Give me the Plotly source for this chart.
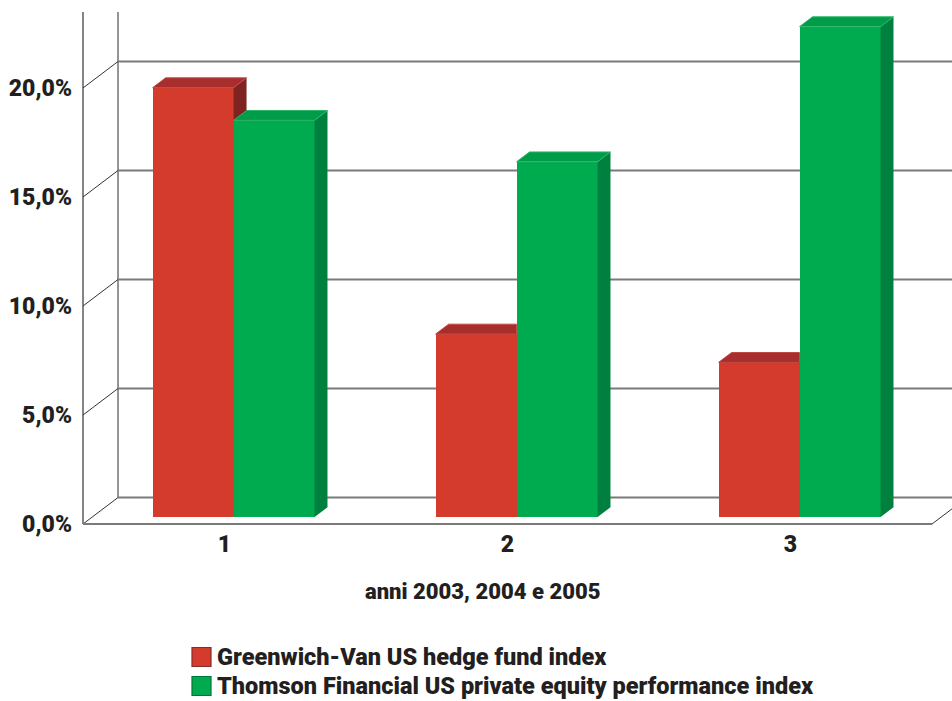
import plotly.graph_objects as go

# ---- data -------------------------------------------------------------
categories = [1, 2, 3]
category_labels = ["1", "2", "3"]
hedge_fund = [19.7, 8.4, 7.1]          # Greenwich-Van US hedge fund index (%)
private_equity = [18.2, 16.3, 22.5]    # Thomson Financial US PE index (%)
y_ticks = [0, 5, 10, 15, 20]
y_tick_labels = ["0,0%", "5,0%", "10,0%", "15,0%", "20,0%"]
series_names = [
    "Greenwich-Van US hedge fund index",
    "Thomson Financial US private equity performance index",
]
x_title = "anni 2003, 2004 e 2005"

# ---- style ------------------------------------------------------------
FONT = "Roboto, Liberation Sans, sans-serif"
WEIGHT = 900
INK = "#231f20"
RED = {"front": "#d43b2d", "top": "#a82e2d", "side": "#7e2222",
       "edge": "#8a2a25", "hi": "#c04a44"}
GREEN = {"front": "#00ab4f", "top": "#009c49", "side": "#00803f",
         "edge": "#00773a", "hi": "#2cb568"}
GRID = "#7a7a7a"
DARK = "#333333"

# ---- pseudo-3D geometry (data units) ---------------------------------
DX, DY = 0.1237, 1.2156      # shift of the back wall relative to the front plane
Z0, Z1 = 0.26, 0.63          # depth range occupied by the bars (0 = front, 1 = back)
BAR_W = 0.286
X_LO, X_HI = 0.5, 3.5        # floor extent along x
PX_X, PX_Y = 283.0, 21.8     # pixels per x unit / per percent
W, H = 952, 701
M_L, M_R, M_T, M_B = 73, 0, 12, 173
PLOT_W, PLOT_H = W - M_L - M_R, H - M_T - M_B


def px_to_paper(px, py):
    """Figure pixel position -> paper coordinates of the plot area."""
    return (px - M_L) / PLOT_W, (H - M_B - py) / PLOT_H


x0 = X_LO - 10 / PX_X
x_range = [x0, x0 + PLOT_W / PX_X]
y0 = -4 / PX_Y
y_range = [y0, y0 + PLOT_H / PX_Y]
Y_TOP = y_range[1] + 1

base = Z0 * DY
ddx, ddy = (Z1 - Z0) * DX, (Z1 - Z0) * DY

fig = go.Figure()


def poly(xs, ys, color, edge=None):
    fig.add_trace(go.Scatter(
        x=xs + [xs[0]], y=ys + [ys[0]], mode="lines", fill="toself",
        fillcolor=color,
        line=dict(width=1 if edge else 0, color=edge or color),
        hoverinfo="skip", showlegend=False,
    ))


# front faces as bars
red_x = [c + Z0 * DX - BAR_W / 2 for c in categories]
green_x = [c + Z0 * DX + BAR_W / 2 for c in categories]
fig.add_trace(go.Bar(x=red_x, y=hedge_fund, base=base, width=BAR_W,
                     marker=dict(color=RED["front"], line=dict(width=0)),
                     name=series_names[0], showlegend=False))
fig.add_trace(go.Bar(x=green_x, y=private_equity, base=base, width=BAR_W,
                     marker=dict(color=GREEN["front"], line=dict(width=0)),
                     name=series_names[1], showlegend=False))

# top and side faces
for rx, gx, rv, gv in zip(red_x, green_x, hedge_fund, private_equity):
    rl, rr = rx - BAR_W / 2, rx + BAR_W / 2
    gl, gr = gx - BAR_W / 2, gx + BAR_W / 2
    rt, gt = base + rv, base + gv
    if rt > gt:
        # red side visible only above the green front face
        poly([rr, rr, rr + ddx, rr + ddx], [gt, rt, rt + ddy, gt], RED["side"])
        poly([rl, rr, rr + ddx, rl + ddx], [rt, rt, rt + ddy, rt + ddy],
             RED["top"], RED["hi"])
    else:
        # red top cut where the green front face starts
        poly([rl, rr, rr, rl + ddx], [rt, rt, rt + ddy, rt + ddy],
             RED["top"], RED["hi"])
    poly([gr, gr, gr + ddx, gr + ddx], [base, gt, gt + ddy, base + ddy], GREEN["side"])
    poly([gl, gr, gr + ddx, gl + ddx], [gt, gt, gt + ddy, gt + ddy],
         GREEN["top"], GREEN["hi"])

# walls and floor
shapes = []


def seg(xa, ya, xb, yb, color, width):
    shapes.append(dict(type="line", xref="x", yref="y", x0=xa, y0=ya, x1=xb, y1=yb,
                       line=dict(color=color, width=width), layer="below"))


seg(X_LO, 0, X_LO, Y_TOP, DARK, 1.2)
seg(X_LO + DX, DY, X_LO + DX, Y_TOP, GRID, 1.6)
for v in y_ticks:
    seg(X_LO, v, X_LO + DX, v + DY, DARK, 1)
    seg(X_LO + DX, v + DY, x_range[1] + 1, v + DY, GRID, 1.8)
seg(X_LO, 0, X_HI, 0, GRID, 1.8)
seg(X_HI, 0, X_HI + DX, DY, DARK, 1)

# key below the chart: coloured square + series name
annotations = []
tx, ty = px_to_paper(482, 591)
annotations.append(dict(
    text=x_title, xref="paper", yref="paper", x=tx, y=ty,
    xanchor="center", yanchor="middle", showarrow=False,
    font=dict(size=22, family=FONT, color=INK, weight=WEIGHT),
))
for i, (name, pal) in enumerate(zip(series_names, (RED, GREEN))):
    cy = 657 + 29 * i
    bx0, by0 = px_to_paper(192, cy + 9.5)
    bx1, by1 = px_to_paper(211, cy - 9.5)
    shapes.append(dict(type="rect", xref="paper", yref="paper",
                       x0=bx0, y0=by0, x1=bx1, y1=by1,
                       fillcolor=pal["front"], line=dict(color=pal["edge"], width=1.2)))
    lx, ly = px_to_paper(216, cy)
    annotations.append(dict(
        text=name, xref="paper", yref="paper", x=lx, y=ly,
        xanchor="left", yanchor="middle", showarrow=False, borderpad=0,
        font=dict(size=23.5, family=FONT, color=INK, weight=WEIGHT),
    ))

fig.update_layout(
    width=W, height=H,
    margin=dict(l=M_L, r=M_R, t=M_T, b=M_B, autoexpand=False),
    paper_bgcolor="white", plot_bgcolor="white",
    barmode="overlay", bargap=0,
    shapes=shapes, annotations=annotations,
    font=dict(family=FONT, color=INK, weight=WEIGHT),
    showlegend=False,
    xaxis=dict(
        range=x_range, showgrid=False, zeroline=False, showline=False, ticks="",
        tickvals=categories, ticktext=category_labels, automargin=False,
        tickfont=dict(size=23, family=FONT, color=INK, weight=WEIGHT),
        fixedrange=True,
    ),
    yaxis=dict(
        range=y_range, showgrid=False, zeroline=False, showline=False, ticks="",
        tickvals=y_ticks, ticktext=y_tick_labels, automargin=False,
        tickfont=dict(size=23, family=FONT, color=INK, weight=WEIGHT),
        fixedrange=True,
    ),
)

fig.write_html("out.html")
